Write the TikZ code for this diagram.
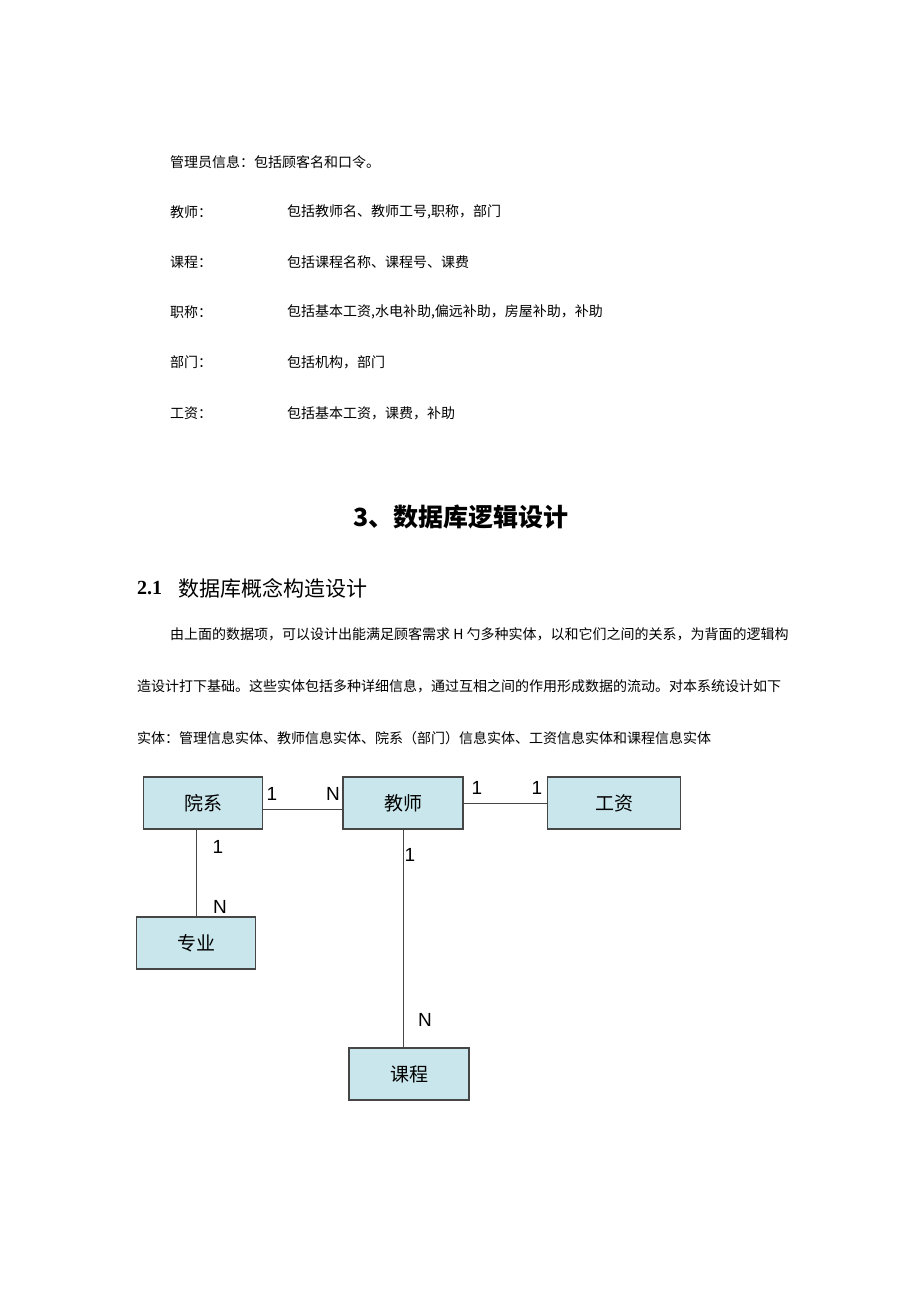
\documentclass[tikz,border=0pt]{standalone}
\usepackage{fontspec}
\setmainfont{Liberation Serif}
\newfontfamily\cjk{Noto Sans CJK SC}
\newfontfamily\latin{Liberation Sans}
\definecolor{boxfill}{RGB}{200,230,235}
\definecolor{boxline}{RGB}{70,70,70}

\begin{document}
\begin{tikzpicture}[x=1pt,y=-1pt,
	entity/.style={draw=boxline, fill=boxfill, line width=1.1pt, minimum width=119pt, minimum height=52pt, inner sep=0pt, font=\cjk\fontsize{19}{19}\selectfont},
	card/.style={inner sep=0pt, font=\latin\fontsize{19}{19}\selectfont},
	txt/.style={anchor=west, inner sep=0pt, font=\cjk\fontsize{14}{14}\selectfont},
	rel/.style={draw=boxline, line width=1pt}]
	\useasboundingbox (0,0) rectangle (920,1301);

	% data items
	\node [txt] (admin) at (170,162) {管理员信息：包括顾客名和口令。};
	\node [txt] (t1) at (170,212) {教师：};
	\node [txt] (d1) at (287,212) {包括教师名、教师工号,职称，部门};
	\node [txt] (t2) at (170,262) {课程：};
	\node [txt] (d2) at (287,262) {包括课程名称、课程号、课费};
	\node [txt] (t3) at (170,312) {职称：};
	\node [txt] (d3) at (287,312) {包括基本工资,水电补助,偏远补助，房屋补助，补助};
	\node [txt] (t4) at (170,362) {部门：};
	\node [txt] (d4) at (287,362) {包括机构，部门};
	\node [txt] (t5) at (170,413) {工资：};
	\node [txt] (d5) at (287,413) {包括基本工资，课费，补助};

	% headings
	\node [inner sep=0pt, font=\cjk\bfseries\fontsize{25}{25}\selectfont] (head) at (461,517) {3、数据库逻辑设计};
	\node [anchor=west, inner sep=0pt, font=\bfseries\fontsize{20}{20}\selectfont] (secnum) at (137,588) {2.1};
	\node [anchor=west, inner sep=0pt, font=\cjk\fontsize{21}{21}\selectfont] (sec) at (178,588) {数据库概念构造设计};

	\node [txt] (p1) at (170,634) {由上面的数据项，可以设计出能满足顾客需求 H 勺多种实体，以和它们之间的关系，为背面的逻辑构};
	\node [txt] (p2) at (137,686) {造设计打下基础。这些实体包括多种详细信息，通过互相之间的作用形成数据的流动。对本系统设计如下};
	\node [txt] (p3) at (137,738) {实体：管理信息实体、教师信息实体、院系（部门）信息实体、工资信息实体和课程信息实体};

	% entities
	\node [entity] (yuanxi) at (203,803) {院系};
	\node [entity, minimum width=120pt] (jiaoshi) at (403,803) {教师};
	\node [entity, minimum width=133pt] (gongzi) at (614,803) {工资};
	\node [entity] (zhuanye) at (196,943) {专业};
	\node [entity, minimum width=120pt] (kecheng) at (409,1074) {课程};

	\draw [rel] ([yshift=-6pt]yuanxi.east) -- ([yshift=-6pt]jiaoshi.west);
	\draw [rel] (jiaoshi.east) -- (gongzi.west);
	\draw [rel] (zhuanye.north) -- (zhuanye.north |- yuanxi.south);
	\draw [rel] (jiaoshi.south) -- (jiaoshi.south |- kecheng.north);

	% cardinalities
	\node [card] (c1) at (272,794) {1};
	\node [card] (c2) at (333,794) {N};
	\node [card] (c3) at (477,788) {1};
	\node [card] (c4) at (537,788) {1};
	\node [card] (c5) at (218,847) {1};
	\node [card] (c6) at (220,907) {N};
	\node [card] (c7) at (410,855) {1};
	\node [card] (c8) at (425,1020) {N};
\end{tikzpicture}
\end{document}
